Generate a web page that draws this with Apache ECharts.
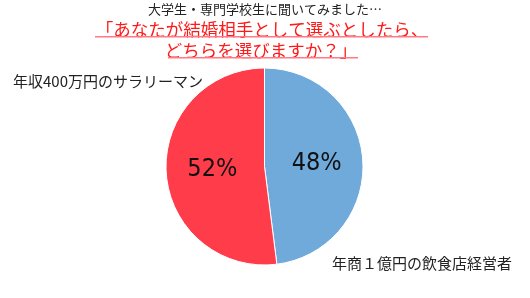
<!DOCTYPE html>
<html><head><meta charset="utf-8">
<script src="https://cdn.jsdelivr.net/npm/echarts@6/dist/echarts.min.js"></script>
<style>html,body{margin:0;padding:0;background:#fff}#c{width:530px;height:298px}</style>
</head><body><div id="c"></div>
<script>
var categories = ['年商１億円の飲食店経営者', '年収400万円のサラリーマン'];
var values = [48, 52];
var colors = ['#6faadb', '#ff3d4a'];
var subtitle = '大学生・専門学校生に聞いてみました…';
var titleLines = ['「あなたが結婚相手として選ぶとしたら、', 'どちらを選びますか？」'];

var font = '"Noto Sans CJK JP", "Noto Sans", sans-serif';
var chart = echarts.init(document.getElementById('c'));
chart.setOption({
  animation: false,
  graphic: [
    {type:'text', left:'center', top:3, style:{text:subtitle, font:'13px '+font, fill:'#222'}},
    {type:'text', x:262, y:29, style:{text:titleLines[0], font:'17.5px '+font, fill:'#ff1a1a', align:'center', verticalAlign:'middle'}},
    {type:'rect', shape:{x:95, y:36, width:333, height:1.5}, style:{fill:'#ff7a85'}},
    {type:'text', x:261, y:50, style:{text:titleLines[1], font:'17.5px '+font, fill:'#ff1a1a', align:'center', verticalAlign:'middle'}},
    {type:'rect', shape:{x:168, y:57, width:190, height:1.5}, style:{fill:'#ff7a85'}},
    {type:'text', x:13, y:81, style:{text:categories[1], font:'15px '+font, fill:'#222', verticalAlign:'middle'}},
    {type:'text', x:332, y:263, style:{text:categories[0], font:'15px '+font, fill:'#222', verticalAlign:'middle'}}
  ],
  series: [{
    type: 'pie',
    center: [264.5, 166.5],
    radius: [0, 98.5],
    startAngle: 90,
    clockwise: true,
    itemStyle: {borderColor:'#fff', borderWidth:1},
    label: {
      show: true, position: 'inside', formatter: '{c}%',
      fontFamily: '"DejaVu Sans Condensed", "Liberation Sans Narrow", sans-serif',
      fontSize: 25, color: '#111'
    },
    labelLine: {show:false},
    emphasis: {disabled:true},
    data: categories.map(function(n,i){return {name:n, value:values[i], itemStyle:{color:colors[i]}};})
  }]
});
</script></body></html>
